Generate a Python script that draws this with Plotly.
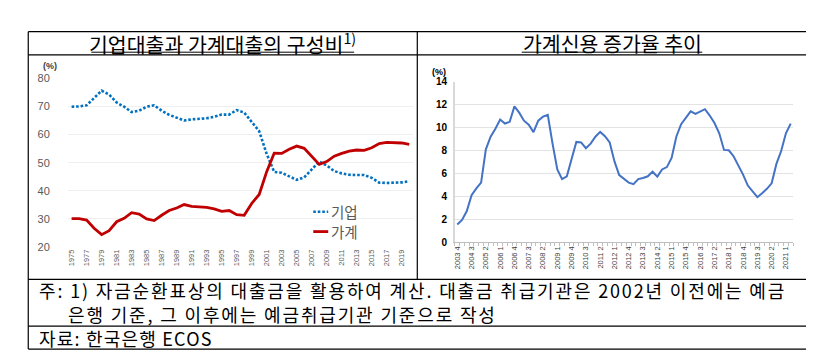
import plotly.graph_objects as go

W, H = 814, 364

# ---------------- data ----------------
years = list(range(1975, 2021))
corp_share = [69.9, 70.0, 70.4, 73.1, 75.6, 74.2, 71.4, 69.9, 68.0, 68.5,
              69.9, 70.4, 68.5, 67.0, 66.0, 65.0, 65.4, 65.5, 65.8, 66.3,
              67.1, 67.1, 68.7, 67.8, 64.3, 61.2, 53.1, 46.7, 46.4, 45.1,
              43.9, 44.8, 47.7, 50.4, 49.0, 47.0, 46.2, 45.7, 45.6, 45.6,
              44.6, 42.9, 42.8, 42.9, 43.0, 43.4]
hh_share = [30.1, 30.1, 29.6, 26.7, 24.4, 25.8, 29.0, 30.2, 32.2, 31.7,
            30.0, 29.4, 31.3, 33.0, 33.9, 35.1, 34.5, 34.4, 34.1, 33.6,
            32.7, 33.0, 31.5, 31.3, 35.5, 38.7, 46.8, 53.4, 53.3, 54.8,
            55.9, 55.1, 52.3, 49.4, 50.4, 52.3, 53.3, 54.1, 54.5, 54.4,
            55.3, 56.8, 57.2, 57.1, 57.0, 56.5]
year_ticks = years[::2]

quarters = [(2003, 4)] + [(y, q) for y in range(2004, 2021) for q in (1, 2, 3, 4)] + [(2021, 1), (2021, 2)]
quarter_labels = [f"{y} {q}" for y, q in quarters]
credit_growth = [1.55, 1.95, 2.72, 4.1, 4.7, 5.2, 8.1, 9.2, 9.9, 10.7,
                 10.35, 10.5, 11.85, 11.3, 10.6, 10.25, 9.6, 10.6, 10.95, 11.1,
                 8.6, 6.35, 5.5, 5.75, 7.25, 8.75, 8.7, 8.2, 8.6, 9.2,
                 9.62, 9.25, 8.7, 7.05, 5.85, 5.55, 5.2, 5.06, 5.5, 5.6,
                 5.75, 6.15, 5.72, 6.35, 6.55, 7.35, 9.22, 10.3, 10.82, 11.41,
                 11.19, 11.36, 11.6, 11.05, 10.4, 9.5, 8.05, 8.02, 7.5, 6.7,
                 5.9, 4.94, 4.39, 3.93, 4.28, 4.66, 5.14, 6.83, 7.95, 9.5,
                 10.34]
q_index = list(range(len(quarter_labels)))

KR = "Noto Sans CJK KR"
NUM = "Liberation Sans, Arial, sans-serif"


def px(x):
    return x / W


def py(y):
    return 1 - y / H


fig = go.Figure()
fig.add_trace(go.Scatter(x=years, y=corp_share, mode="lines", name="기업",
                         line=dict(color="#0070C0", width=2.6, dash="2.6px,1.9px"),
                         xaxis="x", yaxis="y", showlegend=False))
fig.add_trace(go.Scatter(x=years, y=hh_share, mode="lines", name="가계",
                         line=dict(color="#C00000", width=2.8),
                         xaxis="x", yaxis="y", showlegend=False))
fig.add_trace(go.Scatter(x=q_index, y=credit_growth, mode="lines",
                         line=dict(color="#4472C4", width=2),
                         xaxis="x2", yaxis="y2", showlegend=False))

fig.update_layout(
    width=W, height=H, autosize=False,
    margin=dict(l=0, r=0, t=0, b=0),
    paper_bgcolor="white", plot_bgcolor="white",
    font=dict(family=KR, color="#000000"),
    xaxis=dict(domain=[px(58), px(404)], range=[1974.5, 2020.5],
               tickmode="array", tickvals=year_ticks, ticktext=[str(y) for y in year_ticks],
               tickangle=-90, tickfont=dict(family=NUM, size=7.5, color="#595959"),
               showgrid=False, zeroline=False, showline=False, ticks="", anchor="y"),
    yaxis=dict(domain=[py(241), py(66.5)], range=[20, 80], dtick=10, tick0=20,
               gridcolor="#efefef", gridwidth=1, zeroline=False, showline=False,
               tickfont=dict(family=NUM, size=11, color="#595959"),
               ticklabelstandoff=17, anchor="x"),
    xaxis2=dict(domain=[px(446), px(785)], range=[-0.5, len(q_index) - 0.5],
                tickmode="array", tickvals=q_index[::3], ticktext=quarter_labels[::3],
                tickangle=-90, tickfont=dict(family=NUM, size=7.5, color="#404040"),
                showgrid=False, zeroline=False, showline=True, linecolor="#bfbfbf", linewidth=1,
                ticks="",
                minor=dict(tickmode="linear", tick0=-0.5, dtick=1, ticks="outside",
                           ticklen=3, tickcolor="#bfbfbf", showgrid=False),
                anchor="y2"),
    yaxis2=dict(domain=[py(236), py(70)], range=[0, 14], dtick=2, tick0=0,
                gridcolor="#e3e3e3", gridwidth=1, zeroline=False,
                showline=True, linecolor="#d9d9d9", linewidth=1.5,
                tickfont=dict(family=NUM, size=10, color="#000000", weight="bold"),
                ticklabelstandoff=4, anchor="x2"),
)

shapes = []
black = dict(color="black", width=1.2)
# table borders
for yy in (18.3, 42.3, 274.5, 322.7, 346.5):
    shapes.append(dict(type="line", xref="paper", yref="paper", x0=px(18.3), x1=px(799),
                       y0=py(yy), y1=py(yy), line=black))
shapes.append(dict(type="line", xref="paper", yref="paper", x0=px(18.3), x1=px(18.3), y0=py(18.3), y1=py(346.5), line=black))
shapes.append(dict(type="line", xref="paper", yref="paper", x0=px(799), x1=px(799), y0=py(18.3), y1=py(346.5), line=black))
shapes.append(dict(type="line", xref="paper", yref="paper", x0=px(408.3), x1=px(408.3), y0=py(18.3), y1=py(274.5), line=black))
# title underlines
shapes.append(dict(type="line", xref="paper", yref="paper", x0=px(81.5), x1=px(345), y0=py(39.5), y1=py(39.5), line=dict(color="black", width=1)))
shapes.append(dict(type="line", xref="paper", yref="paper", x0=px(513), x1=px(694), y0=py(39.5), y1=py(39.5), line=dict(color="black", width=1)))
# legend samples
shapes.append(dict(type="line", xref="paper", yref="paper", x0=px(304), x1=px(319), y0=py(204.5), y1=py(204.5),
                   line=dict(color="#0070C0", width=2.6, dash="2.6px,1.9px")))
shapes.append(dict(type="line", xref="paper", yref="paper", x0=px(304), x1=px(319), y0=py(225), y1=py(225),
                   line=dict(color="#C00000", width=2.8)))
fig.update_layout(shapes=shapes)

ann = []


def text(x, y, s, size, color="black", xanchor="center", family=KR, bold=False, spacing=None):
    if bold:
        s = f"<b>{s}</b>"
    if spacing is not None:
        s = f'<span style="letter-spacing:{spacing}px">{s}</span>'
    ann.append(dict(x=px(x), y=py(y), xref="paper", yref="paper", text=s,
                    showarrow=False, xanchor=xanchor, yanchor="middle", borderpad=0,
                    font=dict(family=family, size=size, color=color)))


text(213, 29.5, "기업대출과 가계대출의 구성비<sup>1)</sup>", 20.5)
text(603.5, 29.5, "가계신용 증가율 추이", 20.5)
text(40, 53.5, "(%)", 9, color="#404040", family=NUM, bold=True)
text(430, 60, "(%)", 9, color="#000000", family=NUM, bold=True)
text(320.5, 204.5, "기업", 14.5, color="#595959", xanchor="left")
text(320.5, 225, "가계", 14.5, color="#595959", xanchor="left")
text(28, 285.5, "주: 1) 자금순환표상의 대출금을 활용하여 계산. 대출금 취급기관은 2002년 이전에는 예금", 18, xanchor="left", spacing=1.85)
text(57, 310.5, "은행 기준, 그 이후에는 예금취급기관 기준으로 작성", 18, xanchor="left", spacing=1.85)
text(28, 335.5, "자료: 한국은행 ECOS", 18, xanchor="left", spacing=1.2)
fig.update_layout(annotations=ann)

fig.write_html("out.html")
